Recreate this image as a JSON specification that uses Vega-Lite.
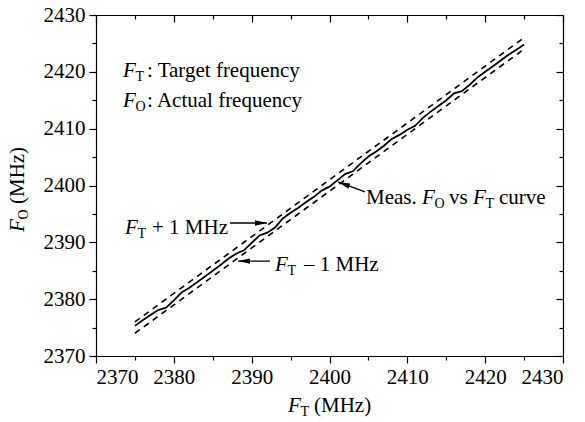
{
  "$schema": "https://vega.github.io/schema/vega-lite/v6.json",
  "width": 467,
  "height": 341,
  "autosize": {"type": "none"},
  "padding": {"left": 96, "top": 15, "right": 22, "bottom": 66},
  "background": "white",
  "config": {
    "view": {"stroke": null},
    "font": "Liberation Serif, Times New Roman, Times, DejaVu Serif, serif",
    "axis": {
      "domainColor": "black", "domainWidth": 1.2, "tickColor": "black", "tickWidth": 1.2,
      "labelFont": "Liberation Serif, Times New Roman, Times, DejaVu Serif, serif", "labelFontSize": 21, "labelColor": "black",
      "grid": false, "title": null
    },
    "text": {"font": "Liberation Serif, Times New Roman, Times, DejaVu Serif, serif", "color": "black"}
  },
  "resolve": {"axis": {"x": "independent", "y": "independent"}},
  "layer": [
    {
      "data": {"values": [
        {"ft": 2375, "fo": 2375.3}, {"ft": 2376, "fo": 2376.3}, {"ft": 2377, "fo": 2377.2}, {"ft": 2378, "fo": 2378.1},
        {"ft": 2379, "fo": 2378.5}, {"ft": 2380, "fo": 2379.8}, {"ft": 2381, "fo": 2381.2}, {"ft": 2382, "fo": 2382.0},
        {"ft": 2383, "fo": 2383.0}, {"ft": 2384, "fo": 2384.0}, {"ft": 2385, "fo": 2385.0}, {"ft": 2386, "fo": 2386.0},
        {"ft": 2387, "fo": 2387.1}, {"ft": 2388, "fo": 2388.0}, {"ft": 2389, "fo": 2388.6}, {"ft": 2390, "fo": 2389.9},
        {"ft": 2391, "fo": 2391.2}, {"ft": 2392, "fo": 2391.7}, {"ft": 2393, "fo": 2392.6}, {"ft": 2394, "fo": 2394.2},
        {"ft": 2395, "fo": 2395.2}, {"ft": 2396, "fo": 2396.1}, {"ft": 2397, "fo": 2397.1}, {"ft": 2398, "fo": 2398.0},
        {"ft": 2399, "fo": 2399.1}, {"ft": 2400, "fo": 2399.8}, {"ft": 2401, "fo": 2400.9}, {"ft": 2402, "fo": 2402.0},
        {"ft": 2403, "fo": 2402.5}, {"ft": 2404, "fo": 2403.9}, {"ft": 2405, "fo": 2405.1}, {"ft": 2406, "fo": 2406.0},
        {"ft": 2407, "fo": 2407.0}, {"ft": 2408, "fo": 2408.2}, {"ft": 2409, "fo": 2408.9}, {"ft": 2410, "fo": 2409.8},
        {"ft": 2411, "fo": 2410.5}, {"ft": 2412, "fo": 2411.9}, {"ft": 2413, "fo": 2413.0}, {"ft": 2414, "fo": 2414.0},
        {"ft": 2415, "fo": 2415.0}, {"ft": 2416, "fo": 2416.2}, {"ft": 2417, "fo": 2416.6}, {"ft": 2418, "fo": 2417.7},
        {"ft": 2419, "fo": 2419.0}, {"ft": 2420, "fo": 2420.0}, {"ft": 2421, "fo": 2421.0}, {"ft": 2422, "fo": 2422.0},
        {"ft": 2423, "fo": 2423.0}, {"ft": 2424, "fo": 2423.9}, {"ft": 2425, "fo": 2424.8}
      ]},
      "mark": {"type": "line", "color": "black", "strokeWidth": 1.8},
      "encoding": {
        "x": {"field": "ft", "type": "quantitative", "scale": {"domain": [2370, 2430], "nice": false, "zero": false},
          "axis": {"orient": "bottom", "values": [2370,2375,2380,2385,2390,2395,2400,2405,2410,2415,2420,2425,2430],
            "format": "d", "labelExpr": "datum.value % 10 === 0 ? datum.label : ''", "labelPadding": 3,
            "tickSize": {"condition": {"test": "datum.value % 10 === 0", "value": 7}, "value": 4}}},
        "y": {"field": "fo", "type": "quantitative", "scale": {"domain": [2370, 2430], "nice": false, "zero": false},
          "axis": {"orient": "left", "values": [2370,2375,2380,2385,2390,2395,2400,2405,2410,2415,2420,2425,2430],
            "format": "d", "labelExpr": "datum.value % 10 === 0 ? datum.label : ''", "labelPadding": 4,
            "tickSize": {"condition": {"test": "datum.value % 10 === 0", "value": 7}, "value": 4}}}
      }
    },
    {
      "data": {"values": [
        {"ft": 2375, "fo": 2376, "band": "plus"}, {"ft": 2425, "fo": 2426, "band": "plus"},
        {"ft": 2375, "fo": 2374, "band": "minus"}, {"ft": 2425, "fo": 2424, "band": "minus"}
      ]},
      "mark": {"type": "line", "color": "black", "strokeWidth": 1.6, "strokeDash": [6, 5]},
      "encoding": {
        "detail": {"field": "band"},
        "x": {"field": "ft", "type": "quantitative", "scale": {"domain": [2370, 2430], "nice": false, "zero": false},
          "axis": {"orient": "top", "values": [2370,2375,2380,2385,2390,2395,2400,2405,2410,2415,2420,2425,2430],
            "labels": false,
            "tickSize": {"condition": {"test": "datum.value % 10 === 0", "value": -7}, "value": -4}}},
        "y": {"field": "fo", "type": "quantitative", "scale": {"domain": [2370, 2430], "nice": false, "zero": false},
          "axis": {"orient": "right", "values": [2370,2375,2380,2385,2390,2395,2400,2405,2410,2415,2420,2425,2430],
            "labels": false,
            "tickSize": {"condition": {"test": "datum.value % 10 === 0", "value": -7}, "value": -4}}}
      }
    },
    {
      "data": {"values": [
        {"x": 2387.22, "y": 2393.4, "x2": 2391.97, "y2": 2393.4},
        {"x": 2392.36, "y": 2386.7, "x2": 2388.24, "y2": 2386.7},
        {"x": 2404.56, "y": 2398.86, "x2": 2401.09, "y2": 2400.62}
      ]},
      "mark": {"type": "rule", "color": "black", "strokeWidth": 1.3},
      "encoding": {
        "x": {"field": "x", "type": "quantitative", "scale": {"domain": [2370, 2430], "nice": false, "zero": false}, "axis": null},
        "y": {"field": "y", "type": "quantitative", "scale": {"domain": [2370, 2430], "nice": false, "zero": false}, "axis": null},
        "x2": {"field": "x2"},
        "y2": {"field": "y2"}
      }
    },
    {
      "data": {"values": [{"x": 2391.2, "y": 2393.4}]},
      "mark": {"type": "point", "shape": "M1,0 L-1,-0.45 L-1,0.45 Z", "size": 144, "filled": true, "color": "black", "opacity": 1, "angle": 0},
      "encoding": {
        "x": {"field": "x", "type": "quantitative", "scale": {"domain": [2370, 2430], "nice": false, "zero": false}, "axis": null},
        "y": {"field": "y", "type": "quantitative", "scale": {"domain": [2370, 2430], "nice": false, "zero": false}, "axis": null}
      }
    },
    {
      "data": {"values": [{"x": 2389.01, "y": 2386.7}]},
      "mark": {"type": "point", "shape": "M1,0 L-1,-0.45 L-1,0.45 Z", "size": 144, "filled": true, "color": "black", "opacity": 1, "angle": 180},
      "encoding": {
        "x": {"field": "x", "type": "quantitative", "scale": {"domain": [2370, 2430], "nice": false, "zero": false}, "axis": null},
        "y": {"field": "y", "type": "quantitative", "scale": {"domain": [2370, 2430], "nice": false, "zero": false}, "axis": null}
      }
    },
    {
      "data": {"values": [{"x": 2401.81, "y": 2400.25}]},
      "mark": {"type": "point", "shape": "M1,0 L-1,-0.45 L-1,0.45 Z", "size": 144, "filled": true, "color": "black", "opacity": 1, "angle": 200},
      "encoding": {
        "x": {"field": "x", "type": "quantitative", "scale": {"domain": [2370, 2430], "nice": false, "zero": false}, "axis": null},
        "y": {"field": "y", "type": "quantitative", "scale": {"domain": [2370, 2430], "nice": false, "zero": false}, "axis": null}
      }
    },
    {
      "data": {"values": [
        {"x": 2373.47, "y": 2420.15, "t": "F"},
        {"x": 2373.47, "y": 2414.87, "t": "F"},
        {"x": 2373.73, "y": 2392.5, "t": "F"},
        {"x": 2393.0, "y": 2386.0, "t": "F"},
        {"x": 2411.88, "y": 2397.8, "t": "F"},
        {"x": 2418.44, "y": 2397.8, "t": "F"},
        {"x": 2394.67, "y": 2361.2, "t": "F"}
      ]},
      "mark": {"type": "text", "fontSize": 21, "fontStyle": "italic", "align": "left", "baseline": "middle"},
      "encoding": {
        "x": {"field": "x", "type": "quantitative", "scale": {"domain": [2370, 2430], "nice": false, "zero": false}, "axis": null},
        "y": {"field": "y", "type": "quantitative", "scale": {"domain": [2370, 2430], "nice": false, "zero": false}, "axis": null},
        "text": {"field": "t"}
      }
    },
    {
      "data": {"values": [
        {"x": 2375.08, "y": 2420.15, "t": "T"},
        {"x": 2375.08, "y": 2414.87, "t": "O"},
        {"x": 2375.33, "y": 2392.5, "t": "T"},
        {"x": 2394.6, "y": 2386.0, "t": "T"},
        {"x": 2413.49, "y": 2397.8, "t": "O"},
        {"x": 2420.04, "y": 2397.8, "t": "T"},
        {"x": 2396.27, "y": 2361.2, "t": "T"}
      ]},
      "mark": {"type": "text", "fontSize": 14, "align": "left", "baseline": "middle", "dy": 6},
      "encoding": {
        "x": {"field": "x", "type": "quantitative", "scale": {"domain": [2370, 2430], "nice": false, "zero": false}, "axis": null},
        "y": {"field": "y", "type": "quantitative", "scale": {"domain": [2370, 2430], "nice": false, "zero": false}, "axis": null},
        "text": {"field": "t"}
      }
    },
    {
      "data": {"values": [
        {"x": 2376.55, "y": 2420.15, "t": ": Target frequency"},
        {"x": 2376.55, "y": 2414.87, "t": ": Actual frequency"},
        {"x": 2377.19, "y": 2392.5, "t": "+ 1 MHz"},
        {"x": 2396.72, "y": 2386.0, "t": "– 1 MHz"},
        {"x": 2404.69, "y": 2397.8, "t": "Meas."},
        {"x": 2415.35, "y": 2397.8, "t": "vs"},
        {"x": 2421.78, "y": 2397.8, "t": "curve"},
        {"x": 2398.01, "y": 2361.2, "t": "(MHz)"}
      ]},
      "mark": {"type": "text", "fontSize": 21, "align": "left", "baseline": "middle"},
      "encoding": {
        "x": {"field": "x", "type": "quantitative", "scale": {"domain": [2370, 2430], "nice": false, "zero": false}, "axis": null},
        "y": {"field": "y", "type": "quantitative", "scale": {"domain": [2370, 2430], "nice": false, "zero": false}, "axis": null},
        "text": {"field": "t"}
      }
    },
    {
      "data": {"values": [{"x": 2359.98, "y": 2391.82, "t": "F"}]},
      "mark": {"type": "text", "fontSize": 21, "fontStyle": "italic", "align": "left", "baseline": "middle", "angle": 270},
      "encoding": {
        "x": {"field": "x", "type": "quantitative", "scale": {"domain": [2370, 2430], "nice": false, "zero": false}, "axis": null},
        "y": {"field": "y", "type": "quantitative", "scale": {"domain": [2370, 2430], "nice": false, "zero": false}, "axis": null},
        "text": {"field": "t"}
      }
    },
    {
      "data": {"values": [{"x": 2359.98, "y": 2394.02, "t": "O"}]},
      "mark": {"type": "text", "fontSize": 14, "align": "left", "baseline": "middle", "angle": 270, "dy": 6},
      "encoding": {
        "x": {"field": "x", "type": "quantitative", "scale": {"domain": [2370, 2430], "nice": false, "zero": false}, "axis": null},
        "y": {"field": "y", "type": "quantitative", "scale": {"domain": [2370, 2430], "nice": false, "zero": false}, "axis": null},
        "text": {"field": "t"}
      }
    },
    {
      "data": {"values": [{"x": 2359.98, "y": 2396.74, "t": "(MHz)"}]},
      "mark": {"type": "text", "fontSize": 21, "align": "left", "baseline": "middle", "angle": 270},
      "encoding": {
        "x": {"field": "x", "type": "quantitative", "scale": {"domain": [2370, 2430], "nice": false, "zero": false}, "axis": null},
        "y": {"field": "y", "type": "quantitative", "scale": {"domain": [2370, 2430], "nice": false, "zero": false}, "axis": null},
        "text": {"field": "t"}
      }
    }
  ]
}
